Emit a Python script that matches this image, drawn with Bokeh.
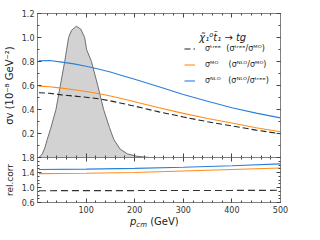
from bokeh.plotting import figure
from bokeh.layouts import column
from bokeh.models import Range1d, LinearAxis, FixedTicker, Legend, LegendItem, Label, Div
from bokeh.embed import file_html
from bokeh.resources import INLINE

# ---------------- data ----------------
p_cm = [3, 25, 50, 75, 100, 125, 150, 175, 200, 250, 300, 350, 400, 450, 500]
sigma_nlo = [0.805, 0.808, 0.795, 0.780, 0.760, 0.737, 0.712, 0.682, 0.652, 0.590, 0.525, 0.468, 0.415, 0.370, 0.330]
sigma_mo = [0.595, 0.590, 0.578, 0.565, 0.550, 0.534, 0.513, 0.490, 0.465, 0.415, 0.368, 0.325, 0.288, 0.248, 0.214]
sigma_tree = [0.540, 0.535, 0.522, 0.512, 0.502, 0.490, 0.472, 0.450, 0.428, 0.380, 0.338, 0.298, 0.263, 0.228, 0.198]

p_rel = [3, 100, 200, 300, 400, 500]
rel_nlo_tree = [1.48, 1.49, 1.51, 1.54, 1.58, 1.63]
rel_nlo_mo = [1.37, 1.38, 1.40, 1.44, 1.48, 1.52]
rel_tree_mo = [0.915, 0.916, 0.918, 0.920, 0.922, 0.925]

dist_p = [3, 10, 15, 20, 27, 38, 47, 56, 60, 64, 70, 80, 89, 97, 101, 111, 124, 136, 148, 157, 170, 185, 205, 230]
dist_v = [0, 0.03, 0.08, 0.15, 0.24, 0.40, 0.60, 0.80, 0.90, 1.00, 1.06, 1.094, 1.07, 1.00, 0.90, 0.80, 0.60, 0.40, 0.25, 0.15, 0.07, 0.03, 0.01, 0.0]

x_ticks = [100, 200, 300, 400, 500]
x_minor = list(range(0, 501, 20))
main_ticks = [0.0, 0.2, 0.4, 0.6, 0.8, 1.0, 1.2]
main_tick_labels = ["1.8", "0.2", "0.4", "0.6", "0.8", "1.0", "1.2"]
main_minor = [round(0.1 * k, 6) for k in range(0, 13)]
rel_ticks = [0.6, 1.0, 1.4, 1.8]
rel_tick_labels = ["0.6", "1.0", "1.4", ""]
rel_minor = [round(0.6 + 0.1 * k, 6) for k in range(0, 13)]

FONT = "DejaVu Sans"
FRAME = "#808080"
TICK = "#444444"
BLUE = "#2a7fdc"
ORANGE = "#ff8c1a"


def style_axis(ax):
    ax.axis_line_color = FRAME
    ax.major_tick_line_color = TICK
    ax.minor_tick_line_color = TICK
    ax.major_tick_in = 4
    ax.major_tick_out = 0
    ax.minor_tick_in = 2
    ax.minor_tick_out = 0
    ax.major_label_text_font = FONT
    ax.major_label_text_font_size = "8px"
    ax.major_label_text_color = "#333333"
    ax.major_label_standoff = 3
    ax.axis_label_text_font = FONT
    ax.axis_label_text_font_style = "normal"
    ax.axis_label_text_color = "#222222"
    ax.axis_label_standoff = 4


def add_axes(fig, yt, ym, ylabels, xlabels, ylabel, ylabel_size):
    ax_l = LinearAxis(ticker=FixedTicker(ticks=yt, minor_ticks=ym),
                      major_label_overrides=dict(zip(yt, ylabels)), axis_label=ylabel)
    style_axis(ax_l)
    ax_l.axis_label_text_font_size = ylabel_size
    fig.add_layout(ax_l, "left")
    ax_r = LinearAxis(ticker=FixedTicker(ticks=yt, minor_ticks=ym),
                      major_label_overrides={t: "" for t in yt})
    style_axis(ax_r)
    fig.add_layout(ax_r, "right")
    ax_b = LinearAxis(ticker=FixedTicker(ticks=x_ticks, minor_ticks=x_minor),
                      major_label_overrides=dict(zip(x_ticks, xlabels)))
    style_axis(ax_b)
    fig.add_layout(ax_b, "below")
    ax_t = LinearAxis(ticker=FixedTicker(ticks=x_ticks, minor_ticks=x_minor),
                      major_label_overrides={t: "" for t in x_ticks})
    style_axis(ax_t)
    fig.add_layout(ax_t, "above")


def base_fig(h, top, bottom, yr, **kw):
    f = figure(width=296, height=h, x_range=xr, y_range=yr,
               output_backend="svg", toolbar_location=None,
               x_axis_location=None, y_axis_location=None,
               min_border_left=33, min_border_right=16, min_border_top=top,
               min_border_bottom=bottom, **kw)
    f.xgrid.visible = False
    f.ygrid.visible = False
    f.outline_line_color = FRAME
    return f


xr = Range1d(0, 500)

# ---------------- main panel ----------------
p = base_fig(163, 13, 6, Range1d(0, 1.2))
add_axes(p, main_ticks, main_minor, main_tick_labels, [""] * len(x_ticks),
         "σv (10⁻⁸ GeV⁻²)", "10px")

p.varea(x=dist_p, y1=0, y2=dist_v, fill_color="#d2d2d2", fill_alpha=1.0)
p.line(dist_p, dist_v, line_color="#6e6e6e", line_width=1)

r_tree = p.line(p_cm, sigma_tree, line_color="#222222", line_width=1.1, line_dash="6 3")
r_mo = p.line(p_cm, sigma_mo, line_color=ORANGE, line_width=1.1)
r_nlo = p.line(p_cm, sigma_nlo, line_color=BLUE, line_width=1.1)

legend = Legend(items=[
    LegendItem(label="σᵗʳᵉᵉ  (σᵗʳᵉᵉ/σᴹᴼ)", renderers=[r_tree]),
    LegendItem(label="σᴹᴼ    (σᴺᴸᴼ/σᴹᴼ)", renderers=[r_mo]),
    LegendItem(label="σᴺᴸᴼ   (σᴺᴸᴼ/σᵗʳᵉᵉ)", renderers=[r_nlo]),
], location=(147, 72), background_fill_alpha=0, border_line_color=None,
    label_text_font=FONT, label_text_font_size="8px", label_text_color="#222222",
    glyph_width=11, glyph_height=9, label_height=9, spacing=7, padding=0, margin=0,
    label_standoff=10)
p.add_layout(legend)

p.add_layout(Label(x=333, y=1.0, text="χ̃₁⁰t̃₁ → tg", text_font=FONT, text_font_size="10px",
                   text_font_style="italic", text_baseline="middle", text_color="#222222"))

# ---------------- ratio panel ----------------
q = base_fig(58, 0, 10, Range1d(0.6, 1.8), margin=(-6, 0, 0, 0))
q.background_fill_alpha = 0
q.border_fill_alpha = 0
add_axes(q, rel_ticks, rel_minor, rel_tick_labels, [str(t) for t in x_ticks],
         "rel.corr", "9px")

q.line(p_rel, rel_nlo_tree, line_color=BLUE, line_width=1.1)
q.line(p_rel, rel_nlo_mo, line_color=ORANGE, line_width=1.1)
q.line(p_rel, rel_tree_mo, line_color="#333333", line_width=1.1, line_dash="7 4")

xlabel = Div(
    text=("<div style=\"font-family:'DejaVu Sans';font-size:10px;line-height:11px;color:#222;"
          "padding-left:130px;white-space:nowrap\">"
          "<i>p</i><span style=\"font-size:7px;font-style:italic;position:relative;top:2px\">cm</span>"
          " (GeV)</div>"),
    width=296, height=11, margin=(-2, 0, 0, 0))

layout = column(p, q, xlabel, spacing=0)
open("out.html", "w").write(file_html(layout, INLINE))
